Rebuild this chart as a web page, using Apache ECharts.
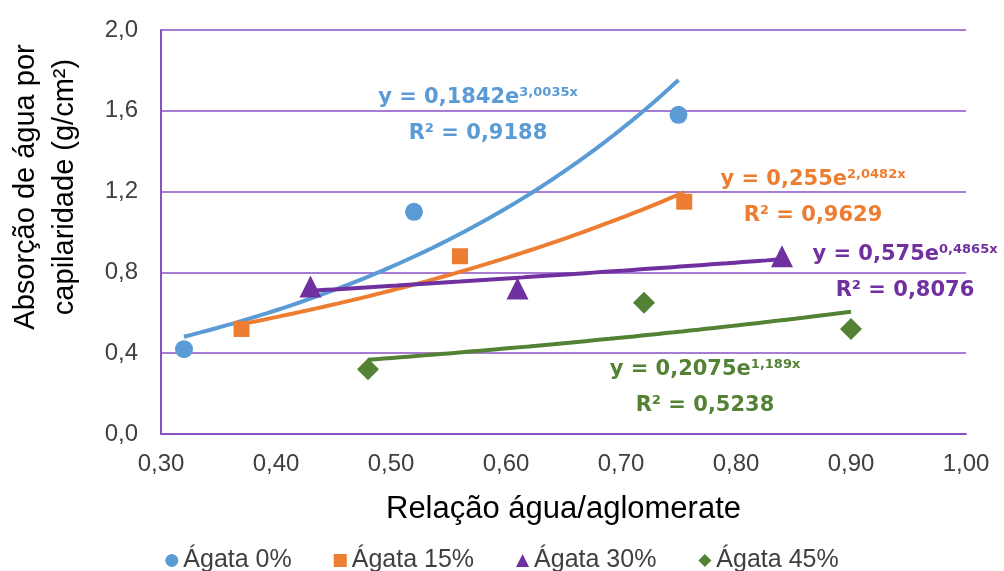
<!DOCTYPE html>
<html>
<head>
<meta charset="utf-8">
<script src="https://cdn.jsdelivr.net/npm/echarts@6/dist/echarts.min.js"></script>
<style>
  html, body { margin: 0; padding: 0; background: #fff; }
  #chart { width: 1004px; height: 571px; }
</style>
</head>
<body>
<div id="chart"></div>
<script>
// Tick labels (Portuguese decimal comma)
const xTickLabels = ['0,30', '0,40', '0,50', '0,60', '0,70', '0,80', '0,90', '1,00'];
const yTickLabels = ['0,0', '0,4', '0,8', '1,2', '1,6', '2,0'];

// Series names
const seriesNames = ['Ágata 0%', 'Ágata 15%', 'Ágata 30%', 'Ágata 45%'];

// Measured points: water/binder ratio vs capillary absorption (g/cm²)
const x0 = [0.32, 0.52, 0.75];
const y0 = [0.42, 1.10, 1.58];
const x15 = [0.37, 0.56, 0.755];
const y15 = [0.52, 0.88, 1.15];
const x30 = [0.43, 0.61, 0.84];
const y30 = [0.73, 0.72, 0.88];
const x45 = [0.48, 0.72, 0.90];
const y45 = [0.32, 0.65, 0.52];

// Exponential trend lines y = a·e^(b·x)
const trendA = [0.1842, 0.255, 0.575, 0.2075];
const trendB = [3.0035, 2.0482, 0.4865, 1.189];
const trendAText = ['0,1842', '0,255', '0,575', '0,2075'];
const trendBText = ['3,0035x', '2,0482x', '0,4865x', '1,189x'];
const r2Text = ['0,9188', '0,9629', '0,8076', '0,5238'];

const colors = ['#5B9BD5', '#ED7D31', '#7030A0', '#548235'];
const symbols = ['circle', 'rect', 'triangle', 'diamond'];
const symbolSizes = [18, 16, 22, 22];
const gridColor = '#8A50C4';

const xs = [x0, x15, x30, x45];
const ys = [y0, y15, y30, y45];

const X_MIN = 0.3, X_MAX = 1.0, X_STEP = 0.1;
const Y_MIN = 0, Y_MAX = 2.0, Y_STEP = 0.4;

function trendPoints(i) {
  const lo = Math.min(...xs[i]);
  const hi = Math.max(...xs[i]);
  const n = 60;
  const pts = [];
  for (let k = 0; k <= n; k++) {
    const x = lo + (hi - lo) * k / n;
    pts.push([x, trendA[i] * Math.exp(trendB[i] * x)]);
  }
  return pts;
}

const series = [];
for (let i = 0; i < 4; i++) {
  series.push({
    name: seriesNames[i] + ' (tendência)',
    type: 'line',
    data: trendPoints(i),
    showSymbol: false,
    smooth: false,
    silent: true,
    lineStyle: { color: colors[i], width: 4 },
    z: 3
  });
}
for (let i = 0; i < 4; i++) {
  series.push({
    name: seriesNames[i],
    type: 'scatter',
    data: xs[i].map((x, k) => [x, ys[i][k]]),
    symbol: symbols[i],
    symbolSize: symbolSizes[i],
    itemStyle: { color: colors[i], opacity: 1 },
    z: 4
  });
}

// Equation label placement (pixel centre of each two-line block)
const eqPos = [[478, 116], [813, 198], [905, 273], [705, 388]];
const eqFont = '"DejaVu Sans", Verdana, sans-serif';

const graphics = [{
  type: 'text',
  x: 45, y: 187,
  rotation: Math.PI / 2,
  style: {
    text: 'Absorção de água por\ncapilaridade (g/cm²)',
    fontFamily: '"Liberation Sans", Arial, sans-serif',
    fontSize: 29,
    lineHeight: 39,
    fill: '#000',
    textAlign: 'center',
    textVerticalAlign: 'middle'
  }
}];
for (let i = 0; i < 4; i++) {
  graphics.push({
    type: 'text',
    x: eqPos[i][0], y: eqPos[i][1],
    z: 10,
    style: {
      text: '{m|y = ' + trendAText[i] + 'e}{s|' + trendBText[i] + '}\n{m|R² = ' + r2Text[i] + '}',
      textAlign: 'center',
      textVerticalAlign: 'middle',
      fill: colors[i],
      rich: {
        m: {
          fontFamily: eqFont,
          fontWeight: 'bold',
          fontSize: 21,
          lineHeight: 36,
          fill: colors[i],
          color: colors[i]
        },
        s: {
          fontFamily: eqFont,
          fontWeight: 'bold',
          fontSize: 13,
          verticalAlign: 'top',
          padding: [6, 0, 0, 0],
          fill: colors[i],
          color: colors[i]
        }
      }
    }
  });
}

const chart = echarts.init(document.getElementById('chart'), null, { renderer: 'canvas' });
chart.setOption({
  backgroundColor: '#ffffff',
  animation: false,
  grid: { left: 161, right: 38, top: 30, bottom: 137, containLabel: false },
  xAxis: {
    type: 'value',
    min: X_MIN, max: X_MAX, interval: X_STEP,
    name: 'Relação água/aglomerate',
    nameLocation: 'middle',
    nameGap: 60,
    nameTextStyle: { fontFamily: '"Liberation Sans", Arial, sans-serif', fontSize: 31, color: '#000' },
    axisLine: { show: true, lineStyle: { color: gridColor, width: 2 } },
    axisTick: { show: false },
    splitLine: { show: false },
    axisLabel: {
      margin: 18,
      fontFamily: '"Liberation Sans", Arial, sans-serif',
      fontSize: 24,
      color: '#404040',
      formatter: v => xTickLabels[Math.round((v - X_MIN) / X_STEP)]
    }
  },
  yAxis: {
    type: 'value',
    min: Y_MIN, max: Y_MAX, interval: Y_STEP,
    axisLine: { show: true, lineStyle: { color: gridColor, width: 2 } },
    axisTick: { show: false },
    splitLine: { show: true, lineStyle: { color: gridColor, width: 1.5 } },
    axisLabel: {
      margin: 23,
      fontFamily: '"Liberation Sans", Arial, sans-serif',
      fontSize: 24,
      color: '#404040',
      formatter: v => yTickLabels[Math.round((v - Y_MIN) / Y_STEP)]
    }
  },
  legend: {
    data: seriesNames,
    left: 'center',
    top: 543,
    itemWidth: 13,
    itemHeight: 13,
    itemGap: 42,
    textStyle: { fontFamily: '"Liberation Sans", Arial, sans-serif', fontSize: 25, color: '#404040' }
  },
  graphic: graphics,
  series: series
});
</script>
</body>
</html>
